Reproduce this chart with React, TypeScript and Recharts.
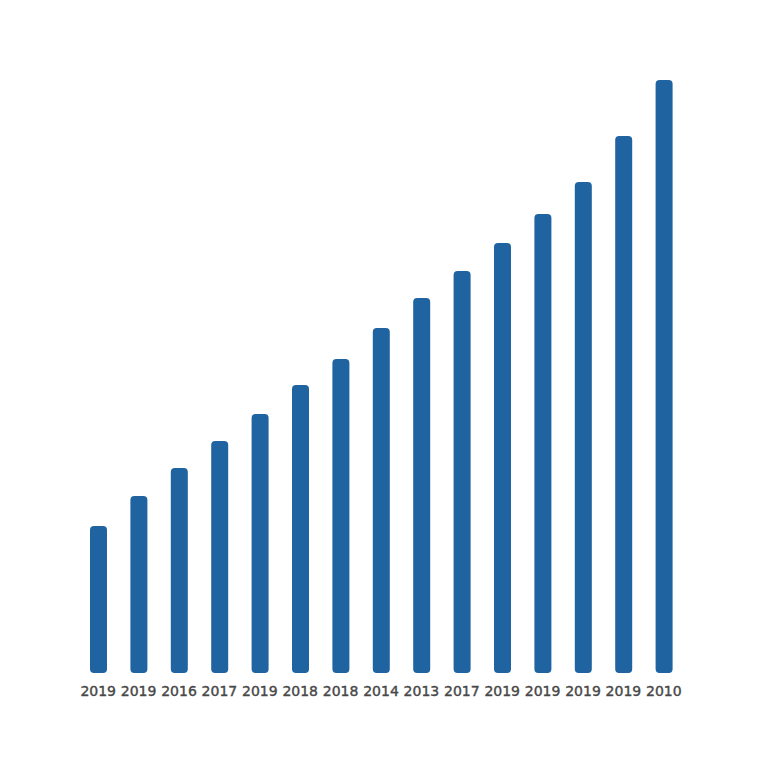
import React from "react";
import { BarChart, Bar, XAxis, YAxis } from "recharts";

const labels = ["2019", "2019", "2016", "2017", "2019", "2018", "2018", "2014", "2013", "2017", "2019", "2019", "2019", "2019", "2010"];
const values = [147, 177, 205, 232, 259, 288, 314, 345, 375, 402, 430, 459, 491, 537, 593];

const data = labels.map((l, i) => ({ idx: i, label: l, value: values[i] }));

export default function App() {
  return (
    <div style={{ position: "absolute", left: 0, top: 0, width: 768, height: 768, background: "#fff" }}>
      <BarChart width={768} height={768} data={data} margin={{ top: 80, right: 84, left: 78, bottom: 65 }}>
        <XAxis
          dataKey="idx"
          height={30}
          axisLine={false}
          tickLine={false}
          tickMargin={7}
          interval={0}
          tickFormatter={(v: number) => labels[v]}
          tick={{ fill: "#484848", stroke: "#484848", strokeWidth: 0.4, fontSize: 14, fontFamily: "DejaVu Sans" }}
        />
        <YAxis hide domain={[0, 593]} />
        <Bar dataKey="value" fill="#1f63a0" barSize={17} radius={4} isAnimationActive={false} />
      </BarChart>
    </div>
  );
}
